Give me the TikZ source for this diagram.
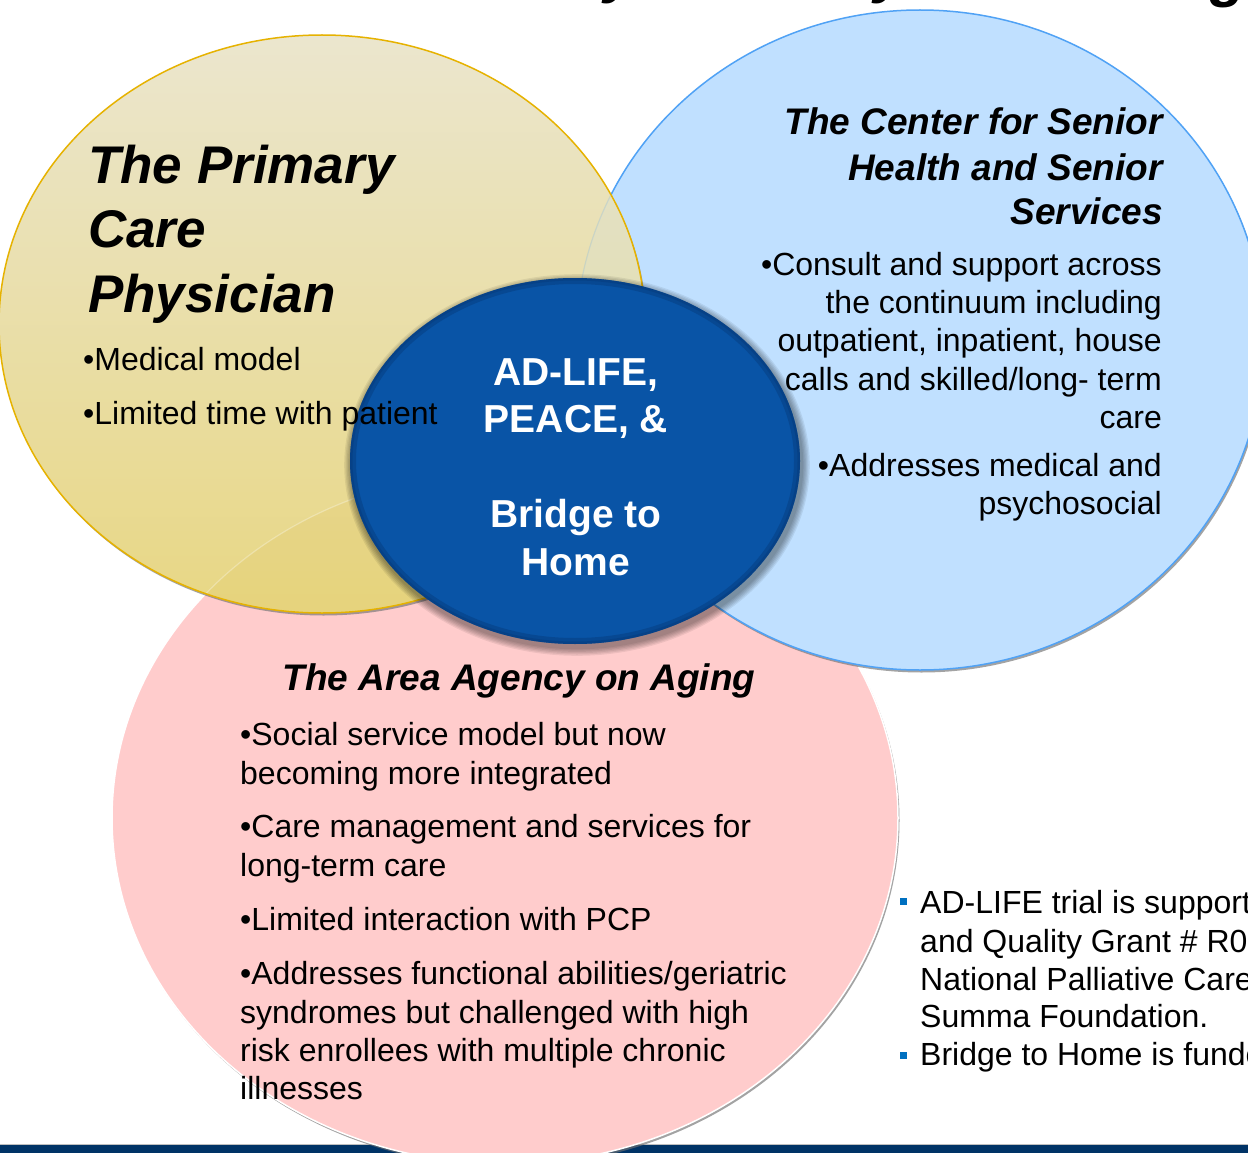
\documentclass[tikz,border=0pt]{standalone}
\usepackage{fontspec}
\setmainfont{Liberation Sans}
\usetikzlibrary{shapes.geometric,shadows}
\definecolor{yellowTop}{RGB}{235,230,206}
\definecolor{yellowBot}{RGB}{232,215,132}
\definecolor{yellowEdge}{RGB}{230,178,0}
\definecolor{blueFill}{RGB}{192,224,255}
\definecolor{blueEdge}{RGB}{80,162,245}
\definecolor{pinkFill}{RGB}{255,204,204}
\definecolor{darkBlue}{RGB}{9,84,166}
\definecolor{darkRim}{RGB}{4,52,110}
\definecolor{navyBar}{RGB}{0,51,102}
\definecolor{bulletBlue}{RGB}{0,112,192}
\definecolor{overlapTone}{RGB}{222,190,80}
\begin{document}
\begin{tikzpicture}[x=1pt,y=-1pt,
  venn/.style={ellipse, inner sep=0pt, outer sep=0pt},
  softshadow/.style={drop shadow={shadow xshift=1.5pt, shadow yshift=-2.5pt, fill=black!55, opacity=.65}},
  bigtitle/.style={font=\bfseries\itshape\fontsize{53}{64}\selectfont, inner sep=0pt},
  midtitle/.style={font=\bfseries\itshape\fontsize{37}{44}\selectfont, inner sep=0pt},
  bodytext/.style={font=\fontsize{32}{38}\selectfont, inner sep=0pt},
  centertext/.style={font=\bfseries\fontsize{39}{47}\selectfont, text=white, inner sep=0pt},
  fragtext/.style={font=\bfseries\itshape\fontsize{60}{72}\selectfont, inner sep=0pt},
  sqbullet/.style={fill=bulletBlue, inner sep=0pt, minimum size=7pt},
  haze/.style={fill=black, opacity=.07}
]
\useasboundingbox (0,0) rectangle (1248,1153);
\fill[white] (0,0) rectangle (1248,1153);

% cut-off title fragments
\begin{scope}
\clip (0,0) rectangle (1248,1153);
\node[fragtext, anchor=base west] (fragA) at (604,-8) {y};
\node[fragtext, anchor=base west] (fragB) at (874,-8) {y};
\node[fragtext, anchor=base west] (fragC) at (1210,-4) {g};
\end{scope}

% bottom bar
\draw[black!25, line width=1pt] (0,1144.5) -- (1248,1144.5);
\fill[navyBar] (0,1145) rectangle (1248,1153);

% pink circle
\node[venn, minimum width=786pt, minimum height=692pt, fill=pinkFill, draw=white, line width=1.5pt, softshadow] (aaa) at (505,818) {};
% blue circle
\node[venn, minimum width=688pt, minimum height=660pt, fill=blueFill, draw=blueEdge, line width=1.5pt, softshadow] (csh) at (920,340) {};
% yellow circle
\node[venn, minimum width=646pt, minimum height=578pt, top color=yellowTop, bottom color=yellowBot, draw=yellowEdge, line width=1.5pt, softshadow] (pcp) at (322,324) {};
% see-through effect of the yellow circle
\begin{scope}
\clip (322,324) ellipse [x radius=322pt, y radius=288pt];
\fill[blueFill, opacity=.15] (920,340) ellipse [x radius=344pt, y radius=330pt];
\draw[blueEdge, opacity=.18, line width=1.2pt] (920,340) ellipse [x radius=344pt, y radius=330pt];
\fill[overlapTone, opacity=.15] (505,818) ellipse [x radius=393pt, y radius=346pt];
\draw[white, opacity=.3, line width=1.2pt] (505,818) ellipse [x radius=393pt, y radius=346pt];
\end{scope}

% soft shadow of the dark centre
\foreach \g in {1,...,6}{
  \fill[haze] (577,465) ellipse [x radius={225pt+\g*1.3pt}, y radius={183pt+\g*1.3pt}];
}
% dark centre
\node[venn, minimum width=450pt, minimum height=366pt, fill=darkBlue] (core) at (575,461) {};
\begin{scope}
\clip (575,461) ellipse [x radius=225pt, y radius=183pt];
\draw[darkRim, opacity=.35, line width=12pt] (575,461) ellipse [x radius=225pt, y radius=183pt];
\draw[darkRim, opacity=.3, line width=5pt] (575,461) ellipse [x radius=225pt, y radius=183pt];
\end{scope}

% centre text
\node[centertext, anchor=base] (c1) at (576,385) {AD-LIFE,};
\node[centertext, anchor=base] (c2) at (576,432) {PEACE, \&};
\node[centertext, anchor=base] (c3) at (576,527) {Bridge to};
\node[centertext, anchor=base] (c4) at (576,575) {Home};

% yellow texts
\node[bigtitle, anchor=base west] (y1) at (88,183) {The Primary};
\node[bigtitle, anchor=base west] (y2) at (88,247) {Care};
\node[bigtitle, anchor=base west] (y3) at (88,312) {Physician};
\node[bodytext, anchor=base west] (y4) at (83,370) {•Medical model};
\node[bodytext, anchor=base west] (y5) at (83,424) {•Limited time with patient};

% blue texts
\node[midtitle, anchor=base east] (b1) at (1163,135) {The Center for Senior};
\node[midtitle, anchor=base east] (b2) at (1163,180) {Health and Senior};
\node[midtitle, anchor=base east] (b3) at (1163,224) {Services};
\node[bodytext, anchor=base east] (b4) at (1162,275) {•Consult and support across};
\node[bodytext, anchor=base east] (b5) at (1162,313) {the continuum including};
\node[bodytext, anchor=base east] (b6) at (1162,351) {outpatient, inpatient, house};
\node[bodytext, anchor=base east] (b7) at (1162,390) {calls and skilled/long- term};
\node[bodytext, anchor=base east] (b8) at (1162,428) {care};
\node[bodytext, anchor=base east] (b9) at (1162,476) {•Addresses medical and};
\node[bodytext, anchor=base east] (b10) at (1162,514) {psychosocial};

% pink texts
\node[midtitle, anchor=base] (p0) at (519,690) {The Area Agency on Aging};
\node[bodytext, anchor=base west] (p1) at (240,745) {•Social service model but now};
\node[bodytext, anchor=base west] (p2) at (240,784) {becoming more integrated};
\node[bodytext, anchor=base west] (p3) at (240,837) {•Care management and services for};
\node[bodytext, anchor=base west] (p4) at (240,876) {long-term care};
\node[bodytext, anchor=base west] (p5) at (240,930) {•Limited interaction with PCP};
\node[bodytext, anchor=base west] (p6) at (240,984) {•Addresses functional abilities/geriatric};
\node[bodytext, anchor=base west] (p7) at (240,1023) {syndromes but challenged with high};
\node[bodytext, anchor=base west] (p8) at (240,1061) {risk enrollees with multiple chronic};
\node[bodytext, anchor=base west] (p9) at (240,1099) {illnesses};

% bottom-right notes
\node[sqbullet] (s1) at (903.5,901.5) {};
\node[sqbullet] (s2) at (903.5,1055) {};
\node[bodytext, anchor=base west] (n1) at (920,913) {AD-LIFE trial is support};
\node[bodytext, anchor=base west] (n2) at (920,952) {and Quality Grant \# R0};
\node[bodytext, anchor=base west] (n3) at (920,990) {National Palliative Care};
\node[bodytext, anchor=base west] (n4) at (920,1027) {Summa Foundation.};
\node[bodytext, anchor=base west] (n5) at (920,1065) {Bridge to Home is funde};
\end{tikzpicture}
\end{document}
